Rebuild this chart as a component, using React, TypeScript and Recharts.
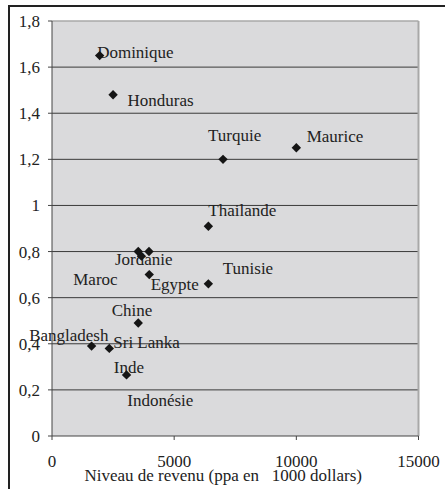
import React from 'react';
import { ScatterChart, Scatter, XAxis, YAxis, CartesianGrid, ReferenceLine } from 'recharts';

const countries = ['Dominique', 'Honduras', 'Turquie', 'Maurice', 'Thailande', 'Maroc', 'Jordanie', 'Indonésie', 'Egypte', 'Tunisie', 'Chine', 'Bangladesh', 'Sri Lanka', 'Inde'];
const income = [1950, 2500, 7000, 10000, 6400, 3530, 3970, 3660, 3980, 6400, 3530, 1620, 2345, 3050];
const ratio = [1.65, 1.48, 1.2, 1.25, 0.91, 0.8, 0.8, 0.78, 0.7, 0.66, 0.49, 0.39, 0.38, 0.265];
const xTicks = [0, 5000, 10000, 15000];
const yTicks = [0, 0.2, 0.4, 0.6, 0.8, 1, 1.2, 1.4, 1.6, 1.8];
const gridValues = [0.2, 0.4, 0.6, 0.8, 1, 1.2, 1.4, 1.6];
const xTitle = 'Niveau de revenu (ppa en   1000 dollars)';

// label placement offsets (px) from each point: text start / baseline
const labelDx = [-2.5, 14.4, -15, 10.3, 0, -65, -34, -14.2, 1.4, 14.4, -26.6, -62.4, 4, -12.7];
const labelDy = [2, 11.4, -18, -6.3, -10.3, 33.3, 13.3, 149.7, 15.7, -10, -7.3, -5, -0.8, -1.7];

const data = countries.map((name, i) => ({ name, x: income[i], y: ratio[i], i }));

const FONT = "'Liberation Serif', 'DejaVu Serif', serif";
const textStyle = { fontFamily: FONT, fontSize: 17 };

const fmtY = (v: number) => {
  const r = Math.round(v * 10) / 10;
  return String(r).replace('.', ',');
};

const PointShape = (props: any) => {
  const { cx, cy, payload } = props;
  if (cx == null || cy == null) return null;
  const s = 4.7;
  const i = payload.i;
  return (
    <g>
      <text x={cx + labelDx[i]} y={cy + labelDy[i]} style={textStyle} fill="#222">
        {payload.name}
      </text>
      <path
        d={`M${cx},${cy - s} L${cx + s},${cy} L${cx},${cy + s} L${cx - s},${cy} Z`}
        fill="#151515"
      />
    </g>
  );
};

const XTitle = (props: any) => {
  const vb = props.viewBox || {};
  return (
    <text
      x={vb.x + vb.width / 2 - 12}
      y={vb.y + 45}
      textAnchor="middle"
      fill="#222"
      style={{ ...textStyle, whiteSpace: 'pre' }}
    >
      {xTitle}
    </text>
  );
};

export default function App() {
  return (
    <div style={{ position: 'absolute', left: 0, top: 0, width: 445, height: 489, background: '#fff', fontFamily: FONT }}>
      <div
        style={{
          position: 'absolute',
          left: 8,
          top: 5,
          width: 437,
          height: 484,
          borderTop: '2px solid #222',
          borderLeft: '2px solid #222',
          boxSizing: 'border-box',
        }}
      />
      <div style={{ position: 'absolute', left: 0, top: 0 }}>
        <ScatterChart width={445} height={489} margin={{ top: 21, right: 26.5, bottom: 0, left: 0 }} style={{ fontFamily: FONT }}>
          <CartesianGrid
            vertical={false}
            horizontalValues={gridValues}
            stroke="#3a3a3a"
            strokeWidth={1}
            fill="#dadadc"
            fillOpacity={1}
          />
          <XAxis
            type="number"
            dataKey="x"
            domain={[0, 15000]}
            ticks={xTicks}
            interval={0}
            height={53}
            tickSize={4}
            tickMargin={15}
            stroke="#444"
            tick={{ fill: '#222', style: textStyle, fontFamily: FONT, fontSize: 17 }}
            label={<XTitle />}
          />
          <YAxis
            type="number"
            dataKey="y"
            domain={[0, 1.8]}
            ticks={yTicks}
            interval={0}
            width={52}
            tickSize={4}
            tickMargin={8}
            stroke="#444"
            tickFormatter={fmtY}
            tick={{ fill: '#222', style: textStyle, fontFamily: FONT, fontSize: 17 }}
          />
          <ReferenceLine y={1.8} stroke="#a8a8a8" strokeWidth={1.5} />
          <ReferenceLine x={15000} stroke="#a8a8a8" strokeWidth={2} />
          <Scatter data={data} shape={<PointShape />} isAnimationActive={false} />
        </ScatterChart>
      </div>
    </div>
  );
}
